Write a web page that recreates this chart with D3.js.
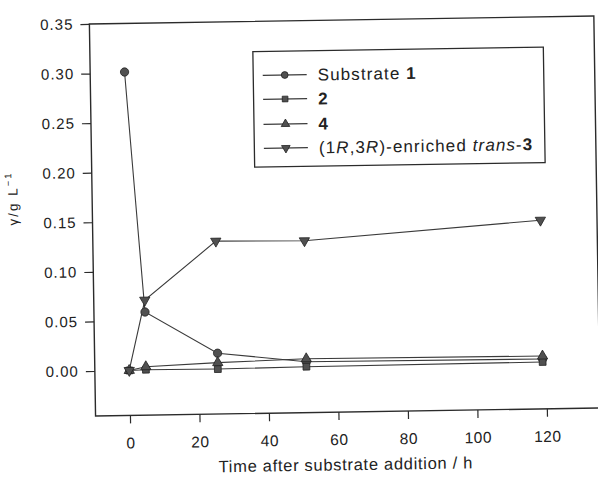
<!DOCTYPE html>
<html>
<head>
<meta charset="utf-8">
<script src="https://cdn.jsdelivr.net/npm/d3@7/dist/d3.min.js"></script>
<style>
  body { margin: 0; background: #fff; }
  svg { display: block; }
  text { font-family: "Liberation Sans", Arial, sans-serif; fill: #222; }
</style>
</head>
<body>
<svg id="chart" width="598" height="477"></svg>
<script>
// ---- data ----
const substrateTime = [0, 4.8, 25.5, 51, 119];
const substrateVal  = [0.301, 0.0587, 0.016, 0.006, 0.005];
const cmp2Time = [0, 4.8, 25.5, 51, 119];
const cmp2Val  = [0.000, 0.0005, 0.000, 0.001, 0.002];
const cmp4Time = [0, 4.8, 25.5, 51, 119];
const cmp4Val  = [0.000, 0.0035, 0.0065, 0.009, 0.008];
const trans3Time = [0, 4.8, 25.5, 51, 119];
const trans3Val  = [0.000, 0.0707, 0.129, 0.128, 0.145];
const xTicks = [0, 20, 40, 60, 80, 100, 120];
const yTicks = [0.00, 0.05, 0.10, 0.15, 0.20, 0.25, 0.30, 0.35];

const svg = d3.select("#chart");
// the scanned original is tilted slightly; draw level, then tilt the whole figure
const root = svg.append("g").attr("transform", "rotate(-0.9,299,220)");

const pL = 92.5, pR = 597, pT = 20.7, pB = 412.7;
const x = d3.scaleLinear().domain([-9.9, 135.3]).range([pL, pR]);
const y = d3.scaleLinear().domain([-0.0453, 0.35]).range([pB, pT]);

const ink = "#2b2b2b";

// frame
root.append("rect").attr("x", pL).attr("y", pT)
  .attr("width", pR - pL).attr("height", pB - pT)
  .attr("fill", "none").attr("stroke", ink).attr("stroke-width", 1.4);

// axes
const yAxis = d3.axisLeft(y).tickValues(yTicks).tickFormat(d3.format(".2f")).tickSize(9).tickPadding(7);
const gy = root.append("g").attr("transform", `translate(${pL},0)`).call(yAxis);
gy.select(".domain").remove();
gy.selectAll("line").attr("stroke", ink).attr("stroke-width", 1.2);
gy.selectAll("text").style("font-size", "15px").style("letter-spacing", "1px").attr("fill", ink);

const xAxis = d3.axisBottom(x).tickValues(xTicks).tickSize(8).tickPadding(14);
const gx = root.append("g").attr("transform", `translate(0,${pB})`).call(xAxis);
gx.select(".domain").remove();
gx.selectAll("line").attr("stroke", ink).attr("stroke-width", 1.2);
gx.selectAll("text").style("font-size", "15.5px").style("letter-spacing", "0.5px").attr("fill", ink);

// axis titles
root.append("text").attr("x", 342).attr("y", 471)
  .attr("text-anchor", "middle").style("font-size", "16.5px").style("letter-spacing", "0.7px")
  .text("Time after substrate addition / h");

const yl = root.append("text")
  .attr("transform", "translate(18,194) rotate(-90)")
  .attr("text-anchor", "middle").style("font-size", "13.5px").style("letter-spacing", "2px");
yl.append("tspan").text("γ/g L");
yl.append("tspan").attr("dy", -6).style("font-size", "9.5px").text("−1");

// series
const series = [
  { t: substrateTime, v: substrateVal, sym: d3.symbolCircle, rot: 0, size: 54 },
  { t: cmp2Time, v: cmp2Val, sym: d3.symbolSquare, rot: 0, size: 46 },
  { t: cmp4Time, v: cmp4Val, sym: d3.symbolTriangle, rot: 0, size: 46 },
  { t: trans3Time, v: trans3Val, sym: d3.symbolTriangle, rot: 180, size: 46 }
];
const line = d3.line().x(d => x(d[0])).y(d => y(d[1]));
series.forEach(s => {
  const pts = s.t.map((t, i) => [t, s.v[i]]);
  root.append("path").datum(pts).attr("d", line)
    .attr("fill", "none").attr("stroke", "#3a3a3a").attr("stroke-width", 1.1);
});
series.forEach(s => {
  const pts = s.t.map((t, i) => [t, s.v[i]]);
  root.append("g").selectAll("path").data(pts).join("path")
    .attr("d", d3.symbol().type(s.sym).size(s.size))
    .attr("transform", d => `translate(${x(d[0])},${y(d[1])}) rotate(${s.rot})`)
    .attr("fill", "#505050").attr("stroke", "#222").attr("stroke-width", 0.8);
});

// legend
const lg = root.append("g");
lg.append("rect").attr("x", 255.5).attr("y", 51).attr("width", 290.5).attr("height", 115.5)
  .attr("fill", "#fff").attr("stroke", ink).attr("stroke-width", 1.3);
const legendRows = [
  [{ t: "Substrate " }, { t: "1", b: true }],
  [{ t: "2", b: true }],
  [{ t: "4", b: true }],
  [{ t: "(1" }, { t: "R", i: true }, { t: ",3" }, { t: "R", i: true }, { t: ")-enriched " }, { t: "trans", i: true }, { t: "-" }, { t: "3", b: true }]
];
const rowY = [74.8, 98.8, 123.8, 147.8];
const legSize = [36, 32, 32, 32];
legendRows.forEach((parts, k) => {
  const s = series[k];
  const yy = rowY[k];
  lg.append("line").attr("x1", 265).attr("x2", 309).attr("y1", yy).attr("y2", yy)
    .attr("stroke", "#3a3a3a").attr("stroke-width", 1.1);
  lg.append("path").attr("d", d3.symbol().type(s.sym).size(legSize[k]))
    .attr("transform", `translate(287,${yy}) rotate(${s.rot})`)
    .attr("fill", "#505050").attr("stroke", "#222").attr("stroke-width", 0.8);
  const tx = lg.append("text").attr("x", 320).attr("y", yy + 6)
    .style("font-size", "17px").style("letter-spacing", "1.1px");
  parts.forEach(p => {
    const ts = tx.append("tspan").text(p.t);
    if (p.b) ts.style("font-weight", "bold");
    if (p.i) ts.style("font-style", "italic");
  });
});
</script>
</body>
</html>
